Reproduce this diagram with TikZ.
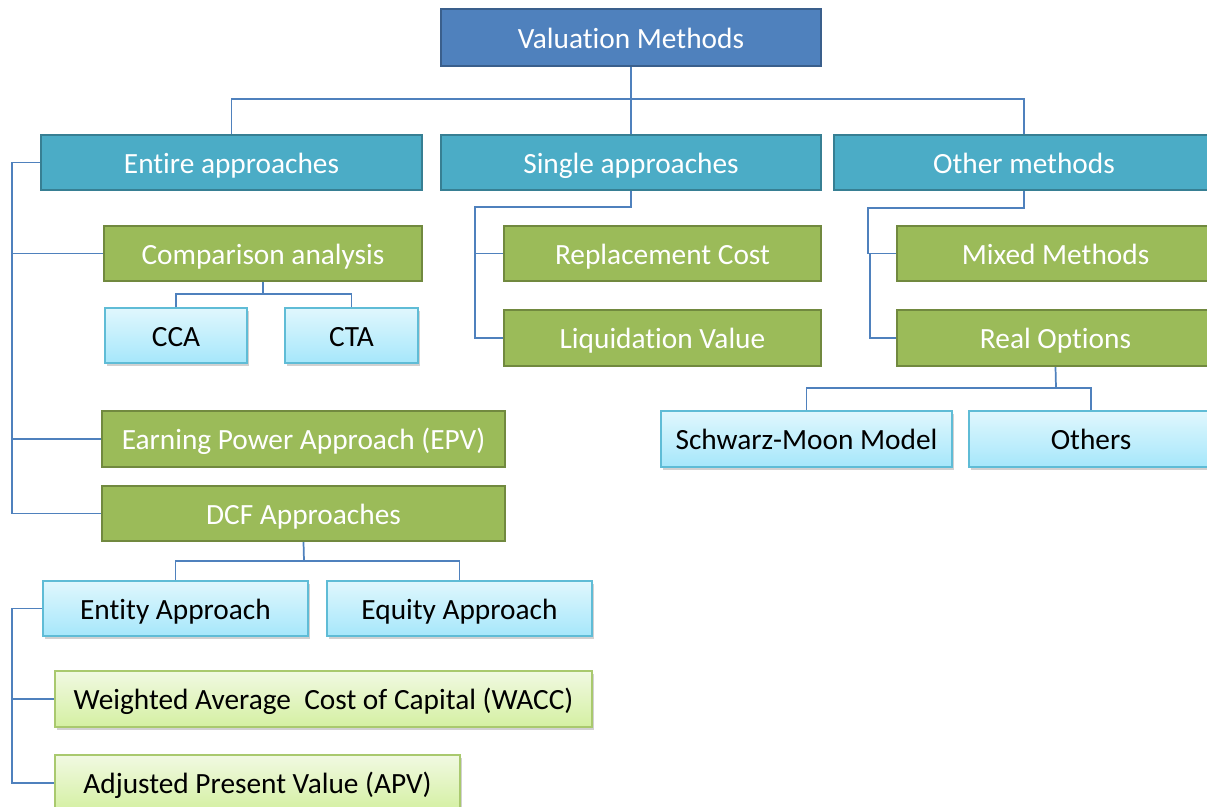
\documentclass[tikz,border=0pt]{standalone}
\usepackage{fontspec}
\setmainfont[Ligatures=NoCommon]{Carlito}
\usetikzlibrary{shadows}

\definecolor{rootfill}{HTML}{4F81BD}
\definecolor{rootline}{HTML}{3A5F8C}
\definecolor{tealfill}{HTML}{4BACC6}
\definecolor{tealline}{HTML}{377F93}
\definecolor{grnfill}{HTML}{9BBB59}
\definecolor{grnline}{HTML}{71893F}
\definecolor{ltbluetop}{HTML}{E0F7FD}
\definecolor{ltbluebot}{HTML}{A6E7FB}
\definecolor{ltblueline}{HTML}{5FBCD6}
\definecolor{ltgrntop}{HTML}{F1F9E2}
\definecolor{ltgrnbot}{HTML}{D4F0A2}
\definecolor{ltgrnline}{HTML}{A9C96E}
\definecolor{wire}{HTML}{4F81BD}

\tikzset{
  px/.style={x=0.75pt,y=-0.75pt},
  base/.style={rectangle, inner sep=0pt, text height=16pt, text depth=0pt,
    font=\fontsize{22}{26}\selectfont},
  sz/.style 2 args={minimum width=#1*0.75pt, minimum height=#2*0.75pt},
  rootbox/.style={base, fill=rootfill, draw=rootline, line width=1.6pt, text=white},
  tealbox/.style={base, fill=tealfill, draw=tealline, line width=1.6pt, text=white},
  grnbox/.style={base, fill=grnfill, draw=grnline, line width=1.6pt, text=white},
  ltblue/.style={base, top color=ltbluetop, bottom color=ltbluebot, draw=ltblueline,
    line width=1.1pt, text=black,
    drop shadow={shadow xshift=1.6pt, shadow yshift=-2pt, opacity=0.3, fill=black!60}},
  ltgrn/.style={base, top color=ltgrntop, bottom color=ltgrnbot, draw=ltgrnline,
    line width=1.1pt, text=black,
    drop shadow={shadow xshift=1.6pt, shadow yshift=-2pt, opacity=0.3, fill=black!60}},
  wirestyle/.style={draw=wire, line width=1.3pt}
}

\begin{document}
\begin{tikzpicture}[px]
\useasboundingbox (0,0) rectangle (1207,807);
\clip (0,0) rectangle (1207,807);

% top level
\node[rootbox, sz={380}{57}] (vm) at (631,37.5) {Valuation Methods};

% second level
\node[tealbox, sz={381}{55}] (ea) at (231.5,162.5) {Entire approaches};
\node[tealbox, sz={380}{55}] (sa) at (631,162.5) {Single approaches};
\node[tealbox, sz={380}{55}] (om) at (1024,162.5) {Other methods};

% entire approaches branch
\node[grnbox, sz={318}{55}] (ca) at (263,253.5) {Comparison analysis};
\node[ltblue, sz={142}{55}] (cca) at (176,335.5) {CCA};
\node[ltblue, sz={133}{55}] (cta) at (351.5,335.5) {CTA};
\node[grnbox, sz={403}{56}] (epv) at (303.5,439) {Earning Power Approach (EPV)};
\node[grnbox, sz={403}{55}] (dcf) at (303.5,513.5) {DCF Approaches};
\node[ltblue, sz={265}{55}] (ent) at (175.5,608.5) {Entity Approach};
\node[ltblue, sz={265}{55}] (eq) at (459.5,608.5) {Equity Approach};
\node[ltgrn, sz={537}{56}] (wacc) at (323.5,699) {Weighted Average\ \ Cost of Capital (WACC)};
\node[ltgrn, sz={405}{56}] (apv) at (257.5,783) {Adjusted Present Value (APV)};

% single approaches branch
\node[grnbox, sz={317}{55}] (rc) at (662.5,253.5) {Replacement Cost};
\node[grnbox, sz={317}{56}] (lv) at (662.5,338) {Liquidation Value};

% other methods branch
\node[grnbox, sz={317}{55}] (mm) at (1055.5,253.5) {Mixed Methods};
\node[grnbox, sz={317}{56}] (ro) at (1055.5,338) {Real Options};
\node[ltblue, sz={291}{56}] (sm) at (806.5,439) {Schwarz-Moon Model};
\node[ltblue, sz={244}{56}] (oth) at (1091,439) {Others};

% junction points
\coordinate (bus) at (631,99);
\coordinate (etrunk) at (12,0);
\coordinate (cabus) at (263,294);
\coordinate (dcfbus) at (304,561);
\coordinate (sabus) at (631,207);
\coordinate (satrunk) at (475,0);
\coordinate (ombus) at (1024,208);
\coordinate (omtrunk) at (868,0);
\coordinate (omtrunkb) at (870,0);
\coordinate (robus) at (1056,388);

% connectors
\path[wirestyle] (vm.south) -- (bus);
\path[wirestyle] (ea.north) |- (bus) -| (om.north);
\path[wirestyle] (bus) -- (sa.north);

\path[wirestyle] (ea.west) -| (etrunk |- dcf.west) -- (dcf.west);
\path[wirestyle] (etrunk |- ca.west) -- (ca.west);
\path[wirestyle] (etrunk |- epv.west) -- (epv.west);

\path[wirestyle] (ca.south) -- (cabus);
\path[wirestyle] (cca.north) |- (cabus) -| (cta.north);

\path[wirestyle] (dcf.south) -- (dcfbus);
\path[wirestyle] (ent.north) |- (dcfbus) -| (eq.north);

\path[wirestyle] (ent.west) -| (etrunk |- apv.west) -- (apv.west);
\path[wirestyle] (etrunk |- wacc.west) -- (wacc.west);

\path[wirestyle] (sa.south) -- (sabus) -| (satrunk |- lv.west) -- (lv.west);
\path[wirestyle] (satrunk |- rc.west) -- (rc.west);

\path[wirestyle] (om.south) -- (ombus) -| (omtrunk |- mm.west) -- (mm.west);
\path[wirestyle] (omtrunkb |- mm.west) -- (omtrunkb |- ro.west) -- (ro.west);

\path[wirestyle] (ro.south) -- (robus);
\path[wirestyle] (sm.north) |- (robus) -| (oth.north);
\end{tikzpicture}
\end{document}
